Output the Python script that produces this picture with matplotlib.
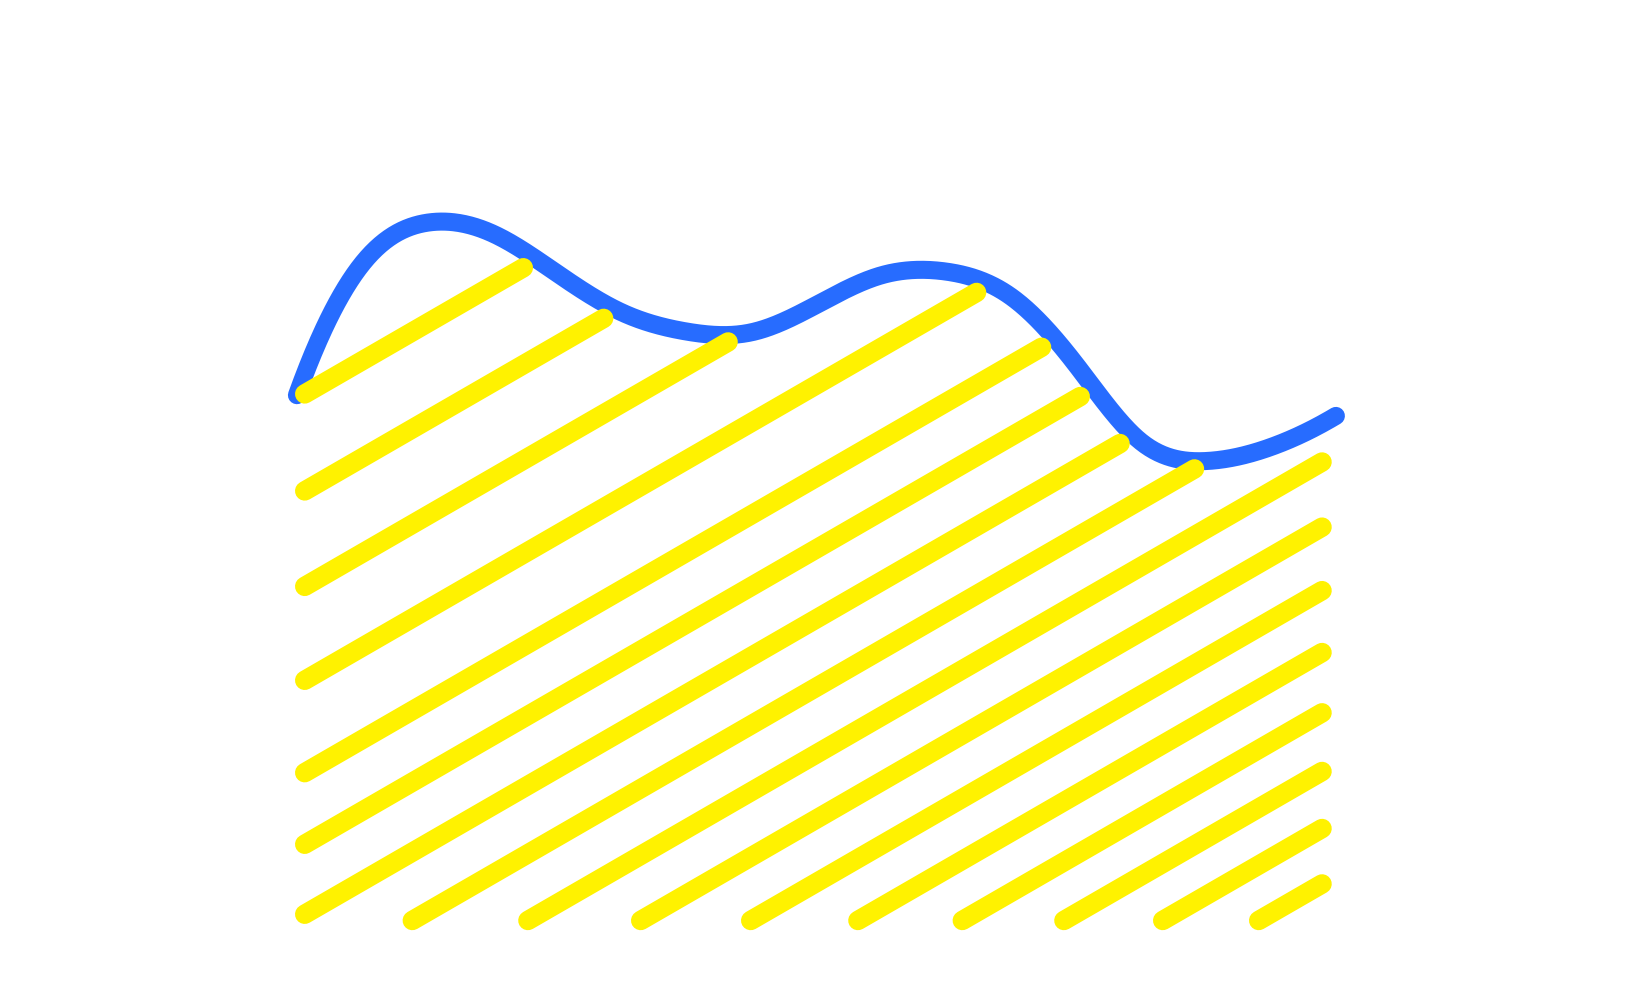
import numpy as np
import matplotlib
matplotlib.use("Agg")
import matplotlib.pyplot as plt

# ---- data ----
categories = [str(i) for i in range(1, 18)]
values = [71.6, 89.3, 94.9, 93.5, 88.1, 82.8, 80.2, 80.1, 83.8,
          87.8, 88.3, 84.9, 75.7, 65.3, 62.7, 64.6, 68.8]

LINE_COLOR = "#276CFF"
FILL_COLOR = "#FFF200"


def smooth_spline(ys, n=60):
    """Cubic spline (parabolic run-out ends) through equally spaced points."""
    y = np.asarray(ys, dtype=float)
    N = len(y)
    A = np.zeros((N, N))
    r = np.zeros(N)
    A[0, 0], A[0, 1] = 1.0, -1.0
    A[-1, -1], A[-1, -2] = 1.0, -1.0
    for i in range(1, N - 1):
        A[i, i - 1], A[i, i], A[i, i + 1] = 1.0, 4.0, 1.0
        r[i] = 6.0 * (y[i + 1] - 2 * y[i] + y[i - 1])
    M = np.linalg.solve(A, r)
    xs_out, ys_out = [], []
    for i in range(N - 1):
        t = np.linspace(0, 1, n, endpoint=(i == N - 2))
        s = ((1 - t) * y[i] + t * y[i + 1]
             + ((1 - t) ** 3 - (1 - t)) * M[i] / 6.0
             + (t ** 3 - t) * M[i + 1] / 6.0)
        xs_out.append(i + t)
        ys_out.append(s)
    return np.concatenate(xs_out), np.concatenate(ys_out)


fig = plt.figure(figsize=(16.45, 9.84), dpi=100)
ax = fig.add_axes([0.1805, 0.05996, 0.6316, 0.752])
ax.set_xlim(0, len(categories) - 1)
ax.set_ylim(0, 100)
ax.axis("off")

x = np.arange(len(categories))
cx, cy = smooth_spline(values)
curve = np.column_stack([cx, cy])
ax.plot(cx, cy, color=LINE_COLOR, lw=13,
        solid_capstyle="round", solid_joinstyle="round", zorder=2, clip_on=False)

# ---- hachure fill of the area under the curve ----
poly = np.vstack([curve, [[x[-1], 0], [x[0], 0]]])
poly_disp = ax.transData.transform(poly)
ang = np.deg2rad(30.0)
d = np.array([np.cos(ang), np.sin(ang)])
nrm = np.array([-np.sin(ang), np.cos(ang)])
proj = poly_disp @ nrm
cmin = proj.min()
n_lines = 16
kk = np.arange(n_lines - 1)
gaps = np.interp(kk, [0, 10, 11, 14], [48, 62, 80, 84])
offsets = cmin + 42.5 + np.concatenate([[0], np.cumsum(gaps)])
inv = ax.transData.inverted()
A = poly_disp
B = np.roll(poly_disp, -1, axis=0)
for c in offsets:
    fa = A @ nrm - c
    fb = B @ nrm - c
    mask = (fa * fb) < 0
    tt = fa[mask] / (fa[mask] - fb[mask])
    pts = A[mask] + tt[:, None] * (B[mask] - A[mask])
    s = np.sort(pts @ d)
    for k in range(0, len(s) - 1, 2):
        p_a = c * nrm + (s[k] + 9) * d
        p_b = c * nrm + (s[k + 1] - 16) * d
        seg = inv.transform(np.vstack([p_a, p_b]))
        ax.plot(seg[:, 0], seg[:, 1], color=FILL_COLOR, lw=14,
                solid_capstyle="round", zorder=3, clip_on=False)

fig.savefig("out.png", dpi=100, facecolor="white")
